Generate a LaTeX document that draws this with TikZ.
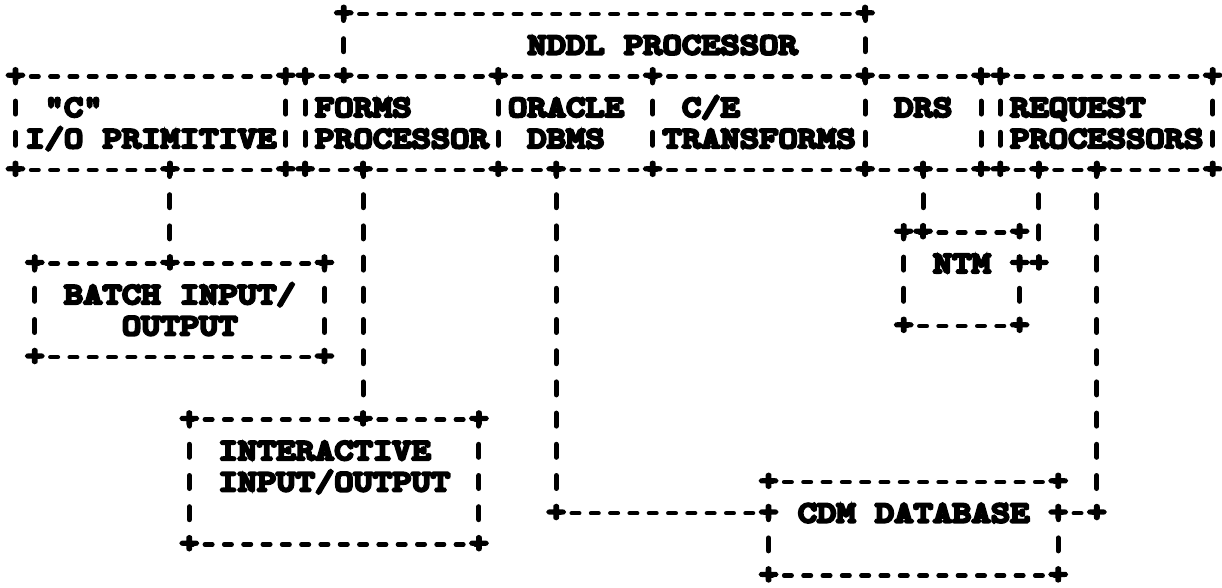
\documentclass[tikz,border=0pt]{standalone}
\usepackage{fontspec}
\newfontfamily\tw{lmmonolt10-bold}[Extension=.otf, FakeBold=9, FakeStretch=1.226]
\newcommand\twfont{\tw\fontsize{30}{30}\selectfont}
\begin{document}
\begin{tikzpicture}[x=19.31pt, y=-31.2pt,
  hd/.style={line width=4.5pt, line cap=round, dash pattern=on 7.5pt off 11.81pt, dash phase=3.75pt},
  vd/.style={line width=5pt, line cap=round, dash pattern=on 13pt off 18.2pt, dash phase=6.5pt},
  plus/.style={inner sep=0pt, font=\twfont},
  lbl/.style={inner sep=0pt, anchor=base west, font=\twfont}]
\useasboundingbox (-0.8027,-0.4487) rectangle (62.4806,18.3974);
% junction marks
\foreach \c/\r in {17/0,44/0,
  0/2,14/2,15/2,17/2,25/2,33/2,44/2,50/2,51/2,62/2,
  0/5,8/5,14/5,15/5,18/5,25/5,28/5,33/5,44/5,47/5,50/5,51/5,53/5,56/5,62/5,
  46/7,47/7,52/7,
  1/8,8/8,16/8,52/8,53/8,
  46/10,52/10,
  1/11,16/11,
  9/13,18/13,24/13,
  39/15,54/15,
  28/16,39/16,54/16,56/16,
  9/17,24/17,
  39/18,54/18}
  \node[plus] (p\c-\r) at (\c,\r) {+};
% horizontal edges
\foreach \r/\a/\b in {0/17/44,
  2/0/14,2/15/17,2/17/25,2/25/33,2/33/44,2/44/50,2/51/62,
  5/0/8,5/8/14,5/15/18,5/18/25,5/25/28,5/28/33,5/33/44,5/44/47,5/47/50,5/51/53,5/53/56,5/56/62,
  7/46/47,7/47/52,
  8/1/8,8/8/16,
  10/46/52,
  11/1/16,
  13/9/18,13/18/24,
  15/39/54,
  16/28/39,16/54/56,
  17/9/24,
  18/39/54}
  \draw[hd] (p\a-\r.center) -- (p\b-\r.center);
% vertical edges
\foreach \c/\a/\b in {0/2/5,14/2/5,15/2/5,17/0/2,25/2/5,33/2/5,44/0/2,44/2/5,50/2/5,51/2/5,62/2/5,
  8/5/8,18/5/13,28/5/16,47/5/7,53/5/8,56/5/16,
  1/8/11,16/8/11,46/7/10,52/8/10,
  9/13/17,24/13/17,39/16/18,54/16/18}
  \draw[vd] (p\c-\a.center) -- (p\c-\b.center);
% labels
\node[lbl] (nddl) at (26.5,1.29) {NDDL PROCESSOR};
\node[lbl] (c) at (1.5,3.29) {"C"};
\node[lbl] (io) at (0.5,4.29) {I/O PRIMITIVE};
\node[lbl] (forms) at (15.5,3.29) {FORMS};
\node[lbl] (formsp) at (15.5,4.29) {PROCESSOR};
\node[lbl] (oracle) at (25.5,3.29) {ORACLE};
\node[lbl] (dbms) at (26.5,4.29) {DBMS};
\node[lbl] (ce) at (34.5,3.29) {C/E};
\node[lbl] (transf) at (33.5,4.29) {TRANSFORMS};
\node[lbl] (drs) at (45.5,3.29) {DRS};
\node[lbl] (req) at (51.5,3.29) {REQUEST};
\node[lbl] (reqp) at (51.5,4.29) {PROCESSORS};
\node[lbl] (ntm) at (47.5,8.29) {NTM};
\node[lbl] (batch) at (2.5,9.29) {BATCH INPUT/};
\node[lbl] (batcho) at (5.5,10.29) {OUTPUT};
\node[lbl] (inter) at (10.5,14.29) {INTERACTIVE};
\node[lbl] (intero) at (10.5,15.29) {INPUT/OUTPUT};
\node[lbl] (cdm) at (40.5,16.29) {CDM DATABASE};
\end{tikzpicture}
\end{document}
